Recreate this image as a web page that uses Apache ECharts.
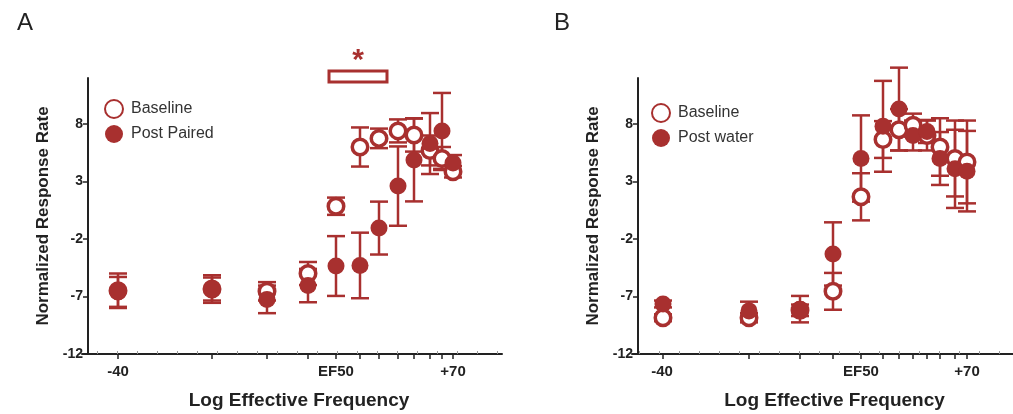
<!DOCTYPE html>
<html>
<head>
<meta charset="utf-8">
<script src="https://cdn.jsdelivr.net/npm/echarts@6/dist/echarts.min.js"></script>
<style>
  html, body { margin: 0; padding: 0; background: #fff; }
  #chart { width: 1013px; height: 414px; }
</style>
</head>
<body>
<div id="chart"></div>
<script>
// x positions are in axis units along the log frequency axis (0 = left end of axis)
var xTicksA = [36, 130, 185, 226, 254, 278, 297, 316, 332, 348, 360, 371];
var xTicksB = [31, 117, 168, 201, 229, 251, 267, 281, 295, 308, 323, 335];
var xLabelPosA = [36, 254, 371];
var xLabelPosB = [30, 229, 335];
var xLabels = ['-40', 'EF50', '+70'];
var yTicks = [-12, -7, -2, 3, 8];

// panel A
var baseA = [-6.5, -6.35, -6.55, -5.0, 0.85, 6.0, 6.75, 7.4, 7.05, 5.7, 5.0, 3.85];
var baseErrA = [1.5, 1.2, 0.8, 1.0, 0.75, 1.7, 0.85, 1.0, 1.45, 1.3, 1.0, 0.5];
var postA = [-6.6, -6.35, -7.25, -6.05, -4.35, -4.3, -1.05, 2.6, 4.87, 6.3, 7.4, 4.6];
var postErrA = [1.3, 1.0, 1.2, 1.45, 2.6, 2.85, 2.3, 3.45, 3.6, 2.65, 3.3, 0.7];

// panel B
var baseB = [-8.85, -8.85, -8.2, -6.55, 1.67, 6.65, 7.5, 7.9, 7.0, 6.0, 5.0, 4.7];
var baseErrB = [0.3, 0.4, 0.5, 1.6, 2.05, 1.6, 1.8, 1.0, 1.3, 2.5, 3.3, 3.6];
var postB = [-7.65, -8.25, -8.1, -3.3, 5.0, 7.8, 9.3, 7.0, 7.35, 5.0, 4.1, 3.9];
var postErrB = [0.3, 0.8, 1.15, 2.75, 3.75, 3.95, 3.6, 1.3, 1.0, 2.3, 3.4, 3.5];

// significance bar over panel A: [xStart, xEnd, yLow, yHigh]
var sigBoxA = [247, 305, 11.65, 12.6];

var RED = '#a8302f';
var INK = '#222';
var FONT = 'Liberation Sans';

var chart = echarts.init(document.getElementById('chart'));

function pts(xs, ys, es) {
    return xs.map(function (x, i) { return [x, ys[i], es[i]]; });
}

function minorTicks(start, end) {
    var out = [];
    for (var v = start; v <= end; v += 20) out.push(v);
    return out;
}

function renderErr(params, api) {
    var x = api.value(0), y = api.value(1), e = api.value(2);
    var top = api.coord([x, y + e]);
    var bot = api.coord([x, y - e]);
    var w = 9;
    var st = { stroke: RED, lineWidth: 2.5 };
    return {
        type: 'group',
        children: [
            { type: 'line', shape: { x1: top[0], y1: top[1], x2: bot[0], y2: bot[1] }, style: st },
            { type: 'line', shape: { x1: top[0] - w, y1: top[1], x2: top[0] + w, y2: top[1] }, style: st },
            { type: 'line', shape: { x1: bot[0] - w, y1: bot[1], x2: bot[0] + w, y2: bot[1] }, style: st }
        ]
    };
}

function renderSig(params, api) {
    var p0 = api.coord([api.value(0), api.value(3)]);
    var p1 = api.coord([api.value(1), api.value(2)]);
    return {
        type: 'group',
        children: [
            { type: 'rect', shape: { x: p0[0], y: p0[1], width: p1[0] - p0[0], height: p1[1] - p0[1] },
              style: { fill: '#fff', stroke: RED, lineWidth: 3 } },
            { type: 'text', x: (p0[0] + p1[0]) / 2, y: p0[1] + 5,
              style: { text: '*', fill: RED, font: 'bold 30px ' + FONT, align: 'center', verticalAlign: 'bottom' } }
        ]
    };
}

function xAxisMain(grid, max, ticks, labelPos, pad) {
    return {
        type: 'value', gridIndex: grid, min: 0, max: max, position: 'bottom',
        name: 'Log Effective Frequency', nameLocation: 'middle', nameGap: 37,
        nameTextStyle: { fontFamily: FONT, fontWeight: 'bold', fontSize: 19, color: INK, padding: [0, 0, 0, pad] },
        splitLine: { show: false },
        axisLine: { show: true, onZero: false, lineStyle: { color: INK, width: 2 } },
        axisTick: { show: true, customValues: ticks, length: 5, lineStyle: { color: INK, width: 1.5 } },
        axisLabel: {
            customValues: labelPos, margin: 10,
            fontFamily: FONT, fontWeight: 'bold', fontSize: 15, color: INK,
            formatter: function (v) { return xLabels[labelPos.indexOf(v)]; }
        }
    };
}

function xAxisMinor(grid, max, ticks) {
    return {
        type: 'value', gridIndex: grid, min: 0, max: max, position: 'bottom',
        splitLine: { show: false },
        axisLine: { show: false, onZero: false },
        axisTick: { show: true, inside: true, customValues: ticks, length: 3, lineStyle: { color: '#999', width: 1 } },
        axisLabel: { show: false }
    };
}

function yAxisMain(grid) {
    return {
        type: 'value', gridIndex: grid, min: -12, max: 12, position: 'left', offset: -6,
        name: 'Normalized Response Rate', nameLocation: 'middle', nameGap: 36,
        nameTextStyle: { fontFamily: FONT, fontWeight: 'bold', fontSize: 17, color: INK },
        splitLine: { show: false },
        axisLine: { show: true, onZero: false, lineStyle: { color: INK, width: 2 } },
        axisTick: { show: true, customValues: yTicks, length: 5, lineStyle: { color: INK, width: 1.5 } },
        axisLabel: { customValues: yTicks, margin: 5, fontFamily: FONT, fontWeight: 'bold', fontSize: 14, color: INK }
    };
}

function errSeries(name, xi, yi, data) {
    return { name: name, type: 'custom', xAxisIndex: xi, yAxisIndex: yi, clip: false, z: 2,
        renderItem: renderErr, encode: { x: 0, y: 1 }, data: data, silent: true };
}

function openSeries(name, xi, yi, data) {
    return { name: name, type: 'scatter', xAxisIndex: xi, yAxisIndex: yi, clip: false, z: 2,
        symbol: 'circle', symbolSize: 15.5,
        itemStyle: { color: '#fff', borderColor: RED, borderWidth: 3.5, opacity: 1 }, data: data };
}

function fillSeries(name, xi, yi, data) {
    return { name: name, type: 'scatter', xAxisIndex: xi, yAxisIndex: yi, clip: false, z: 2,
        symbol: 'circle', symbolSize: 17,
        itemStyle: { color: RED, opacity: 1 }, data: data };
}

var legendText = { fontFamily: FONT, fontSize: 16, color: '#333', padding: [0, 0, 0, 3] };

var option = {
    animation: false,
    backgroundColor: '#fff',
    title: [
        { text: 'A', left: 12, top: 6, textStyle: { fontFamily: FONT, fontWeight: 'normal', fontSize: 24, color: INK } },
        { text: 'B', left: 549, top: 6, textStyle: { fontFamily: FONT, fontWeight: 'normal', fontSize: 24, color: INK } }
    ],
    legend: [
        { data: ['Baseline', 'Post Paired'], left: 99, top: 94, orient: 'vertical', itemGap: 6,
          itemWidth: 18, itemHeight: 18, textStyle: legendText, selectedMode: false },
        { data: ['Baseline', 'Post water'], left: 646, top: 98, orient: 'vertical', itemGap: 6,
          itemWidth: 18, itemHeight: 18, textStyle: legendText, selectedMode: false }
    ],
    grid: [
        { left: 82, top: 78, width: 420, height: 276, outerBoundsMode: 'none' },
        { left: 632, top: 78, width: 381, height: 276, outerBoundsMode: 'none' }
    ],
    xAxis: [
        xAxisMain(0, 420, xTicksA, xLabelPosA, 14),
        xAxisMain(1, 381, xTicksB, xLabelPosB, 24),
        xAxisMinor(0, 420, minorTicks(15, 415)),
        xAxisMinor(1, 381, minorTicks(7, 381))
    ],
    yAxis: [yAxisMain(0), yAxisMain(1)],
    series: [
        { name: 'sigA', type: 'custom', xAxisIndex: 0, yAxisIndex: 0, clip: false, silent: true,
          renderItem: renderSig, data: [sigBoxA] },
        errSeries('errBaseA', 0, 0, pts(xTicksA, baseA, baseErrA)),
        openSeries('Baseline', 0, 0, pts(xTicksA, baseA, baseErrA)),
        errSeries('errPostA', 0, 0, pts(xTicksA, postA, postErrA)),
        fillSeries('Post Paired', 0, 0, pts(xTicksA, postA, postErrA)),
        errSeries('errBaseB', 1, 1, pts(xTicksB, baseB, baseErrB)),
        openSeries('Baseline', 1, 1, pts(xTicksB, baseB, baseErrB)),
        errSeries('errPostB', 1, 1, pts(xTicksB, postB, postErrB)),
        fillSeries('Post water', 1, 1, pts(xTicksB, postB, postErrB))
    ]
};

chart.setOption(option);
</script>
</body>
</html>
